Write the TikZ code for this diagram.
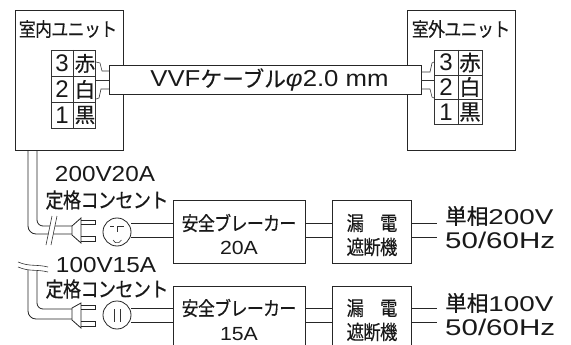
\documentclass[tikz,border=0pt]{standalone}
\usepackage{fontspec}
\setmainfont{Noto Sans CJK JP}[LetterSpace=-3,FakeBold=0.3,FakeStretch=0.87]
\newfontfamily\wj{Noto Sans CJK JP}[FakeBold=0.3]
\newfontfamily\lat{Liberation Sans}[FakeStretch=1.12]
\newfontfamily\latw{Liberation Sans}[FakeStretch=1.3]
\newfontfamily\latn{Liberation Sans}
\newcommand{\fs}[1]{\fontsize{#1}{#1}\selectfont}
\newcommand{\LT}[2]{{\fontsize{#1}{#1}\selectfont\lat #2}}
\newcommand{\LW}[2]{{\fontsize{#1}{#1}\selectfont\latw #2}}
\newcommand{\WJ}[2]{{\fontsize{#1}{#1}\selectfont\wj #2}}
\tikzset{
  ln/.style={draw=black!85,line width=0.8pt},
  thin wire/.style={draw=black!80,line width=0.6pt},
  box/.style={draw=black!85,line width=0.9pt,fill=white},
  txt/.style={inner sep=0pt,text=black!90,align=center},
}
\begin{document}
\begin{tikzpicture}[x=1pt,y=-1pt]
\useasboundingbox (0,0) rectangle (571,345);
\clip (0,0) rectangle (571,345);
\fill[white] (0,0) rectangle (571,345);
% units
\draw[box] (15,10) rectangle (123,150);
\draw[box] (407,10) rectangle (515,150);
\node[txt,font=\fs{19.4}] (iut) at (68,29) {室内ユニット};
\node[txt,font=\fs{19.4}] (out) at (461,29) {室外ユニット};
% cable
\draw[box] (109,65) rectangle (421,94);
\node[txt] (cab) at (269.5,80) {\LT{23}{VVF}\WJ{21.7}{ケーブル}\LT{23}{\textit{φ}2.0 mm}};
% left terminals
\draw[thin wire] (51,50) rectangle (95,128);
\draw[thin wire] (73,50) -- (73,128) (51,76.5) -- (95,76.5) (51,102) -- (95,102);
\foreach \y/\n/\c in {63.5/3/赤,89.5/2/白,115/1/黒}{
  \node[txt,font=\fontsize{24}{24}\selectfont\latn] at (62,\y) {\n};
  \node[txt] at (85,\y) {\WJ{20.5}{\c}};
}
% right terminals
\draw[thin wire] (434,50) rectangle (482,124);
\draw[thin wire] (458,50) -- (458,124) (434,75) -- (482,75) (434,99) -- (482,99);
\foreach \y/\n/\c in {62.5/3/赤,87/2/白,112/1/黒}{
  \node[txt,font=\fontsize{24}{24}\selectfont\latn] at (446,\y) {\n};
  \node[txt] at (470,\y) {\WJ{21.5}{\c}};
}
% wires to cable
\draw[thin wire] (96,62) -- (100,63) -- (102,71) -- (109,71);
\draw[thin wire] (95,80) -- (109,80);
\draw[thin wire] (96,99) -- (99,98) -- (101,89) -- (109,89);
\draw[thin wire] (421,72) -- (430,72) -- (432,63) -- (434,62);
\draw[thin wire] (421,80) -- (434,80);
\draw[thin wire] (421,89) -- (430,89) -- (432,97) -- (434,98);
% upper cord
\draw[ln] (28,150) -- (28,226) arc[start angle=180,end angle=90,radius=8] -- (36,234) -- (72,234);
\draw[ln] (37,150) -- (37,220) arc[start angle=180,end angle=90,radius=6] -- (43,226) -- (72,226);
\fill[white] (47,245) -- (52,216) -- (57,216) -- (51,245) -- cycle;
\draw[thin wire] (46,245) -- (52,216) (51,245) -- (57,216);
% plug 1
\draw[ln,fill=white] (72,226) -- (81,218) -- (81,243) -- (72,235) -- cycle;
\draw[ln] (81,220) -- (95,220) -- (95,224.5) -- (81,224.5) (81,236) -- (95,236) -- (95,241) -- (81,241);
% outlet 1
\node[circle,draw=black!85,line width=0.8pt,minimum size=28pt,inner sep=0pt] (o1) at (117,232) {};
\draw[thin wire] (110,226) -- (114,226) (117,226) -- (124,226) (117.5,226) -- (117.5,232);
\draw[thin wire] (113,240) arc[start angle=160,end angle=20,radius=4.5];
% lower break
\draw[thin wire] (18,262) .. controls (30,267) and (36,264) .. (48,267);
\draw[thin wire] (18,267) .. controls (30,272) and (36,269) .. (48,272);
% lower cord
\draw[ln] (28,270) -- (28,311) arc[start angle=180,end angle=90,radius=8] -- (36,319) -- (72,319);
\draw[ln] (37,271) -- (37,303) arc[start angle=180,end angle=90,radius=6] -- (43,309) -- (72,309);
% plug 2
\draw[ln,fill=white] (72,308) -- (81,303) -- (81,328) -- (72,320) -- cycle;
\draw[ln] (81,305) -- (95,305) -- (95,309) -- (81,309) (81,321) -- (95,321) -- (95,326) -- (81,326);
% outlet 2
\node[circle,draw=black!85,line width=0.8pt,minimum size=28pt,inner sep=0pt] (o2) at (117,315) {};
\draw[thin wire] (114,309) -- (114,322) (120,309) -- (120,322);
% boxes
\draw[box] (173,200) rectangle (305,263);
\draw[box] (332,200) rectangle (411,263);
\draw[box] (173,286) rectangle (305,350);
\draw[box] (332,286) rectangle (411,350);
% connections
\foreach \y in {223,237,308,322}{
  \draw[ln] (131,\y) -- (173,\y);
  \draw[ln] (305,\y) -- (332,\y);
  \draw[ln] (411,\y) -- (437,\y);
}
% texts
\node[txt] (a1) at (105,174) {\LT{21.7}{200V20A}};
\node[txt,font=\fs{20.8}] (b1) at (107,200) {定格コンセント};
\node[txt] (a2) at (106,265) {\LT{21.7}{100V15A}};
\node[txt,font=\fs{20.8}] (b2) at (107,289) {定格コンセント};
\node[txt,font=\fs{19.4}] (c1) at (239,223) {安全ブレーカー};
\node[txt] (c2) at (239,248) {\LT{19}{20A}};
\node[txt,font=\fs{19.4}] (c3) at (239,308) {安全ブレーカー};
\node[txt] (c4) at (239,334) {\LT{19}{15A}};
\node[txt,font=\fs{19.9}] (d1) at (372,223) {漏　電};
\node[txt,font=\fs{19.9}] (d2) at (372,247) {遮断機};
\node[txt,font=\fs{19.9}] (d3) at (372,308) {漏　電};
\node[txt,font=\fs{19.9}] (d4) at (372,332) {遮断機};
\node[txt,anchor=west] (e1) at (445,216) {\WJ{21.6}{単相}\LW{21.4}{200V}};
\node[txt,anchor=west] (e2) at (445,240) {\LW{22.7}{50/60Hz}};
\node[txt,anchor=west] (e3) at (445,303) {\WJ{21.6}{単相}\LW{21.4}{100V}};
\node[txt,anchor=west] (e4) at (445,327) {\LW{22.7}{50/60Hz}};
\end{tikzpicture}
\end{document}
